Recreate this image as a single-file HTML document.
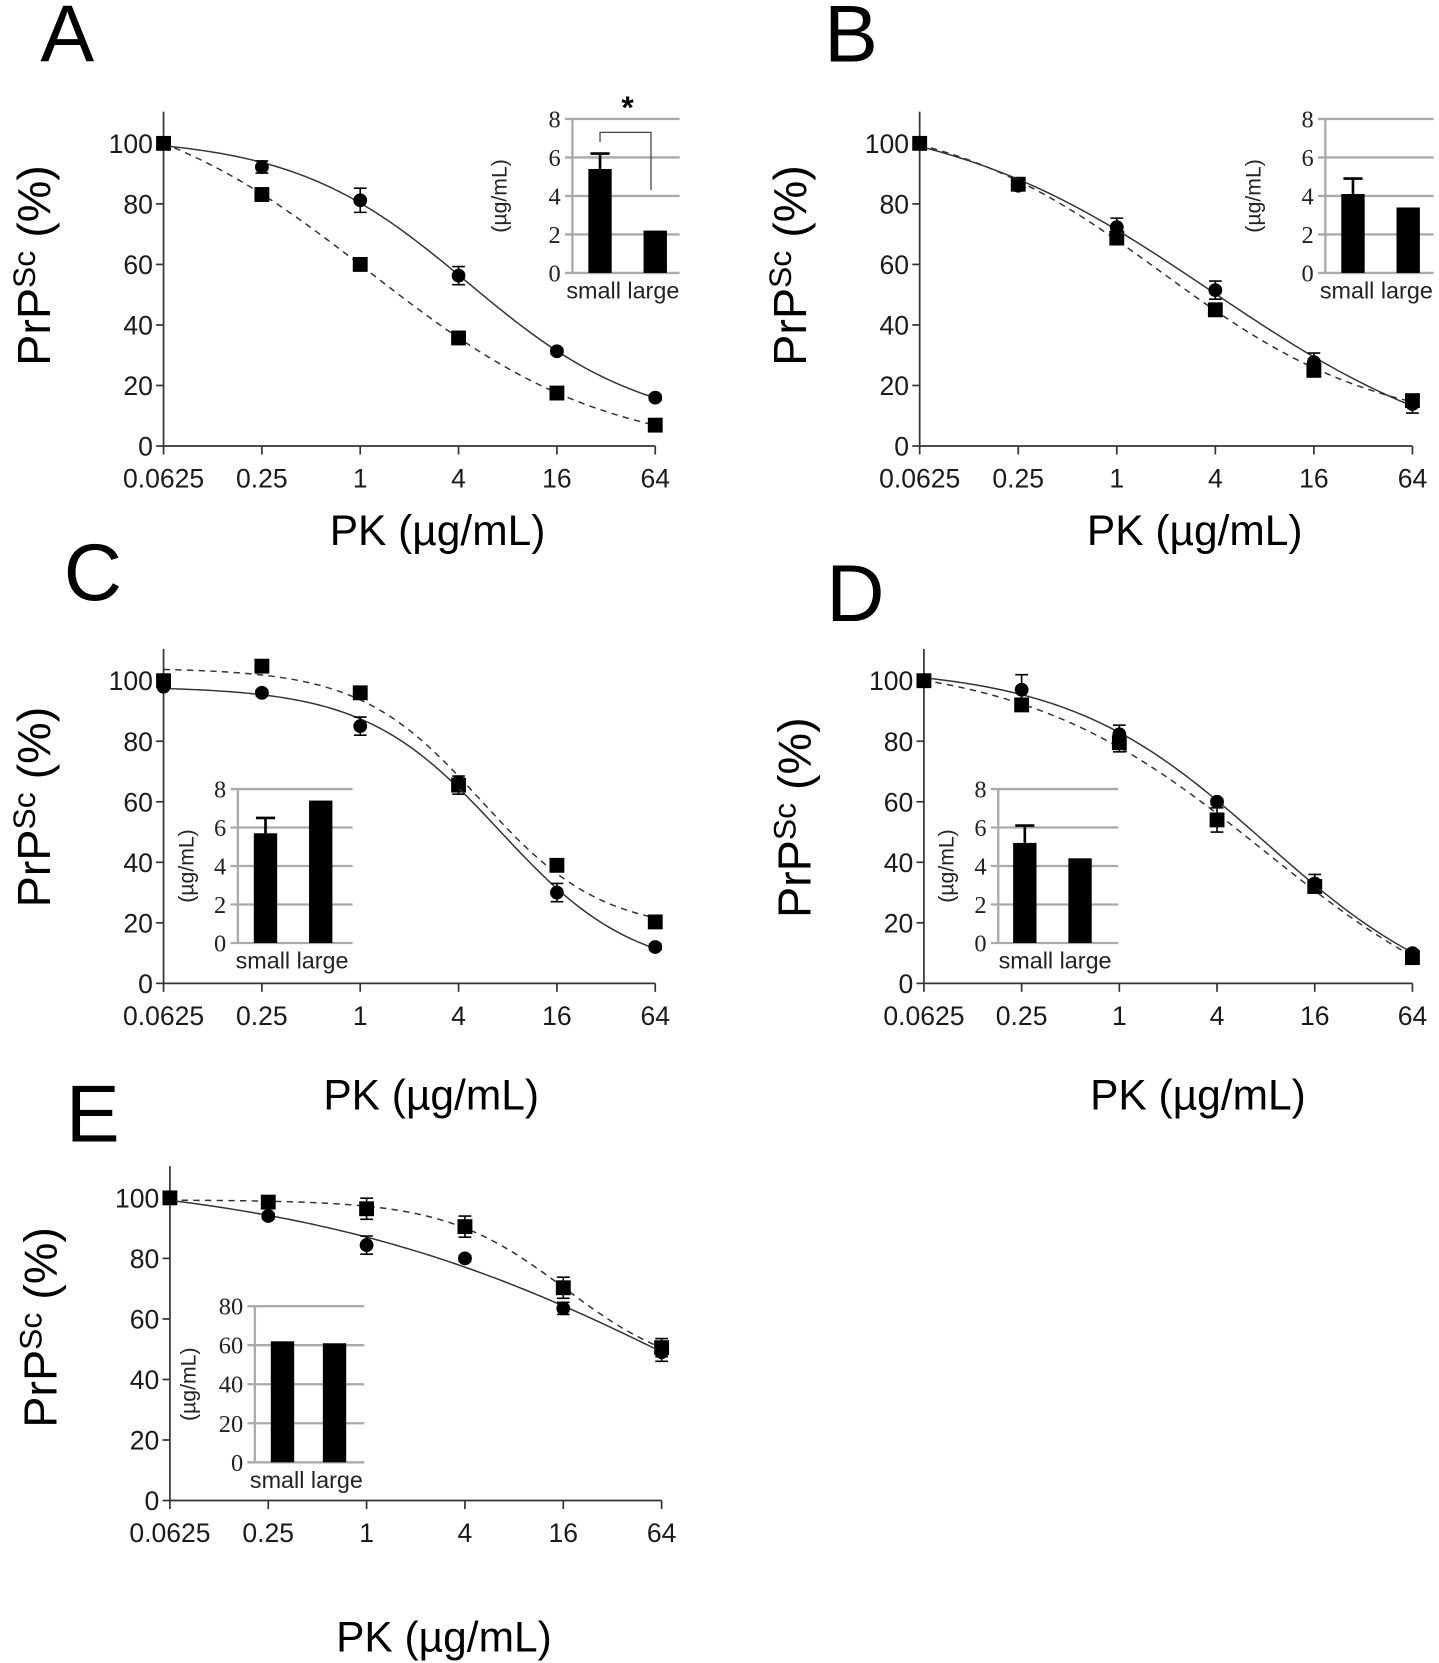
<!DOCTYPE html>
<html><head><meta charset="utf-8"><style>
html,body{margin:0;padding:0;background:#fff;}
svg{display:block;}
text{font-family:"Liberation Sans",Arial,sans-serif;}
.ser{font-family:"Liberation Serif",serif;}
</style></head><body>
<svg id="fig" width="1439" height="1663" viewBox="0 0 1355 1566" preserveAspectRatio="none" xmlns="http://www.w3.org/2000/svg"></svg>
<script>
// ---------- data ----------
const xTickLabels = ["0.0625","0.25","1","4","16","64"];
const xValues = [0.0625,0.25,1,4,16,64];
const yTicks = [0,20,40,60,80,100];

const aCircles = [100,92.2,81.2,56.3,31.3,16];
const aCirclesErr = [0,2,4,3,1,1];
const aSquares = [100,83.1,60,35.7,17.5,6.9];
const aSquaresErr = [0,1,1,1,1,1];
const aBars = [5.4,2.2];
const aBarsErr = [0.8,0];

const bCircles = [100,86,72.3,51.5,27.7,13.9];
const bCirclesErr = [0,1,3,3,3,3];
const bSquares = [100,86.5,68.7,45,25,15];
const bSquaresErr = [0,1,1,1,1,1];
const bBars = [4.1,3.4];
const bBarsErr = [0.8,0];

const cCircles = [98,96,85,66.5,30,12];
const cCirclesErr = [0,1,3,1,3,1];
const cSquares = [100,104.8,96,65.5,39,20.3];
const cSquaresErr = [0,1,1,3,1,1];
const cBars = [5.7,7.4];
const cBarsErr = [0.8,0];

const dCircles = [100,97,82.3,60,33,10];
const dCirclesErr = [0,5,3,1,3,1];
const dSquares = [100,92,79.5,54,32,8.5];
const dSquaresErr = [0,1,3,4,1,1];
const dBars = [5.2,4.4];
const dBarsErr = [0.9,0];

const eCircles = [100,94,84.4,80,63.5,49];
const eCirclesErr = [0,1,3,1,2,3];
const eSquares = [100,98.6,96.4,90.5,70.3,50.5];
const eSquaresErr = [0,1,3.5,3.5,3.5,3];
const eBars = [62,61];
const eBarsErr = [0,0];
const barLabels = ["small","large"];

// ---------- drawing ----------
const NS="http://www.w3.org/2000/svg";
const svg=document.getElementById('fig');
function mk(tag,attrs,parent){const e=document.createElementNS(NS,tag);for(const k in attrs)e.setAttribute(k,attrs[k]);(parent||svg).appendChild(e);return e;}

function fitLogistic(vals){
  const lx=xValues.map(v=>Math.log2(v));
  const f=(p,x)=>p[1]+(p[0]-p[1])/(1+Math.pow(2,(x-p[2])*p[3]));
  const err=p=>{let s=0;vals.forEach((v,i)=>{const d=f(p,lx[i])-v;s+=d*d;});return s;};
  let p=[vals[0]+2,Math.min(...vals)-5,1,0.6];
  let steps=[4,8,1,0.2];
  let best=err(p);
  for(let it=0;it<3000;it++){
    let improved=false;
    for(let k=0;k<4;k++){
      for(const s of [1,-1]){
        const q=p.slice();q[k]+=s*steps[k];
        if(k===3&&q[3]<0.05)continue;
        const e=err(q);
        if(e<best){best=e;p=q;improved=true;}
      }
    }
    if(!improved){steps=steps.map(s=>s/2);if(steps[0]<1e-4)break;}
  }
  return x=>f(p,Math.log2(x));
}

function panel(cfg){
  const g=mk('g',{});
  
  
  const xs=v=>cfg.x0+(Math.log(v/0.0625)/Math.log(1024))*(cfg.x1-cfg.x0);
  const ys=v=>cfg.y0+(v/100)*(cfg.y100-cfg.y0);
  const L=mk('text',{x:cfg.lx,y:cfg.ly,'font-size':76,fill:'#000'},g);L.textContent=cfg.id.toUpperCase();
  
  
  const ax=mk('path',{d:`M${cfg.x0},${ys(110.5)} L${cfg.x0},${cfg.y0} L${cfg.x1},${cfg.y0}`,stroke:'#333','stroke-width':1.6,fill:'none'},g);
  
  
  yTicks.forEach(t=>{
    mk('line',{x1:cfg.x0-7,x2:cfg.x0,y1:ys(t),y2:ys(t),stroke:'#333','stroke-width':1.6},g);
    const tx=mk('text',{x:cfg.x0-10,y:ys(t)+9,'font-size':25,'text-anchor':'end',fill:'#1a1a1a'},g);
    tx.textContent=t;
    
    
  });
  xValues.forEach((v,i)=>{
    mk('line',{x1:xs(v),x2:xs(v),y1:cfg.y0,y2:cfg.y0+8,stroke:'#333','stroke-width':1.6},g);
    const tx=mk('text',{x:xs(v),y:cfg.y0+39,'font-size':25,'text-anchor':'middle',fill:'#1a1a1a'},g);
    tx.textContent=xTickLabels[i];
    
    
  });
  const yt=mk('text',{transform:`translate(${cfg.x0-107},${cfg.yty}) rotate(-90)`,'font-size':44,'text-anchor':'middle',fill:'#000'},g);
  yt.innerHTML='PrP<tspan font-size="30" dy="-14">Sc</tspan><tspan dy="14"> (%)</tspan>';
  
  
  const xt=mk('text',{x:cfg.xtx,y:cfg.xty,'font-size':40,'text-anchor':'middle',fill:'#000'},g);
  xt.textContent='PK (\u00b5g/mL)';
  
  
  [[cfg.sq,cfg.sqErr,'square','6,5'],[cfg.ci,cfg.ciErr,'circle',null]].forEach(([vals,errs,shape,dash])=>{
    const fn=fitLogistic(vals);
    let d="";
    for(let k=0;k<=100;k++){
      const x=0.0625*Math.pow(1024,k/100);
      d+=(k?" L":"M")+xs(x).toFixed(2)+","+ys(fn(x)).toFixed(2);
    }
    const p=mk('path',{d:d,fill:'none',stroke:'#333','stroke-width':1.4},g);
    if(dash)p.setAttribute('stroke-dasharray',dash);
    
    
    vals.forEach((v,i)=>{
      const x=xs(xValues[i]),y=ys(v);
      if(errs[i]>0){
        const e=mk('path',{d:`M${x},${ys(v+errs[i])} L${x},${ys(v-errs[i])} M${x-6},${ys(v+errs[i])} L${x+6},${ys(v+errs[i])} M${x-6},${ys(v-errs[i])} L${x+6},${ys(v-errs[i])}`,stroke:'#000','stroke-width':1.5,fill:'none'},g);
        
        
      }
      let m;
      if(shape==='square')m=mk('rect',{x:x-7,y:y-7,width:14,height:14,fill:'#000'},g);
      else m=mk('circle',{cx:x,cy:y,r:6.5,fill:'#000'},g);
      
      
    });
  });
  const I=cfg.inset;
  const ig=mk('g',{},g);
  
  
  const iy=v=>I.yb+(v/I.max)*(I.yt-I.yb);
  for(let k=0;k<=4;k++){
    const v=I.max*k/4;
    mk('line',{x1:I.ax-7,x2:I.gr,y1:iy(v),y2:iy(v),stroke:'#aaa','stroke-width':2.2},ig);
    const tx=mk('text',{x:I.ax-11,y:iy(v)+8,'font-size':23,'text-anchor':'end',fill:'#222',class:'ser'},ig);
    tx.textContent=v;
    
    
  }
  mk('line',{x1:I.ax,x2:I.ax,y1:I.yt,y2:I.yb,stroke:'#aaa','stroke-width':2.2},ig);
  const yl=mk('text',{transform:`translate(${I.ax-I.lab},${(I.yt+I.yb)/2}) rotate(-90)`,'font-size':20,'text-anchor':'middle',fill:'#222'},ig);
  yl.textContent='(\u00b5g/mL)';
  
  
  const offs=[I.b1,I.b2];
  cfg.bars.forEach((v,i)=>{
    const cx=I.ax+offs[i];
    const r=mk('rect',{x:cx-11,y:iy(v),width:22,height:iy(0)-iy(v),fill:'#000'},ig);
    
    
    if(cfg.barsErr[i]>0){
      mk('path',{d:`M${cx},${iy(v)} L${cx},${iy(v+cfg.barsErr[i])} M${cx-9},${iy(v+cfg.barsErr[i])} L${cx+9},${iy(v+cfg.barsErr[i])}`,stroke:'#000','stroke-width':2.5,fill:'none'},ig);
    }
  });
  const bl=mk('text',{x:(I.ax-6+I.gr)/2,y:I.yb+24,'font-size':22,'text-anchor':'middle',fill:'#222'},ig);
  bl.textContent=barLabels.join(' ');
  
  
  if(cfg.sig){
    const br=mk('path',{d:`M${I.ax+I.b1},${iy(6.8)} L${I.ax+I.b1},${iy(7.3)} L${I.ax+I.b1+48},${iy(7.3)} L${I.ax+I.b1+48},${iy(4.3)}`,stroke:'#444','stroke-width':1.2,fill:'none'},ig);
    
    
    const st=mk('text',{x:I.ax+I.b1+26,y:iy(8)-1,'font-size':30,'font-weight':'bold','text-anchor':'middle',fill:'#000'},ig);
    st.textContent='*';
    
    
  }
}

panel({id:'a',x0:154,x1:617,y0:420,y100:135,lx:38,ly:58,yty:250,xtx:412,xty:513,
  ci:aCircles,ciErr:aCirclesErr,sq:aSquares,sqErr:aSquaresErr,bars:aBars,barsErr:aBarsErr,sig:true,
  inset:{ax:539,gr:640,yt:112,yb:257,max:8,lab:62,b1:26,b2:78}});
panel({id:'b',x0:866,x1:1330,y0:420,y100:135,lx:776,ly:58,yty:250,xtx:1125,xty:513,
  ci:bCircles,ciErr:bCirclesErr,sq:bSquares,sqErr:bSquaresErr,bars:bBars,barsErr:bBarsErr,sig:false,
  inset:{ax:1248,gr:1350,yt:112,yb:257,max:8,lab:61,b1:26,b2:78}});
panel({id:'c',x0:154,x1:617,y0:926,y100:641,lx:60,ly:565,yty:760,xtx:406,xty:1045,
  ci:cCircles,ciErr:cCirclesErr,sq:cSquares,sqErr:cSquaresErr,bars:cBars,barsErr:cBarsErr,sig:false,
  inset:{ax:224,gr:332,yt:743,yb:888,max:8,lab:42,b1:26,b2:78}});
panel({id:'d',x0:870,x1:1330,y0:926,y100:641,lx:778,ly:585,yty:770,xtx:1128,xty:1045,
  ci:dCircles,ciErr:dCirclesErr,sq:dSquares,sqErr:dSquaresErr,bars:dBars,barsErr:dBarsErr,sig:false,
  inset:{ax:940,gr:1053,yt:743,yb:888,max:8,lab:42,b1:25,b2:77}});
panel({id:'e',x0:160,x1:623,y0:1413,y100:1128,lx:62,ly:1075,yty:1250,xtx:418,xty:1555,
  ci:eCircles,ciErr:eCirclesErr,sq:eSquares,sqErr:eSquaresErr,bars:eBars,barsErr:eBarsErr,sig:false,
  inset:{ax:240,gr:343,yt:1230,yb:1377,max:80,lab:56,b1:26,b2:75}});
</script>
</body></html>
